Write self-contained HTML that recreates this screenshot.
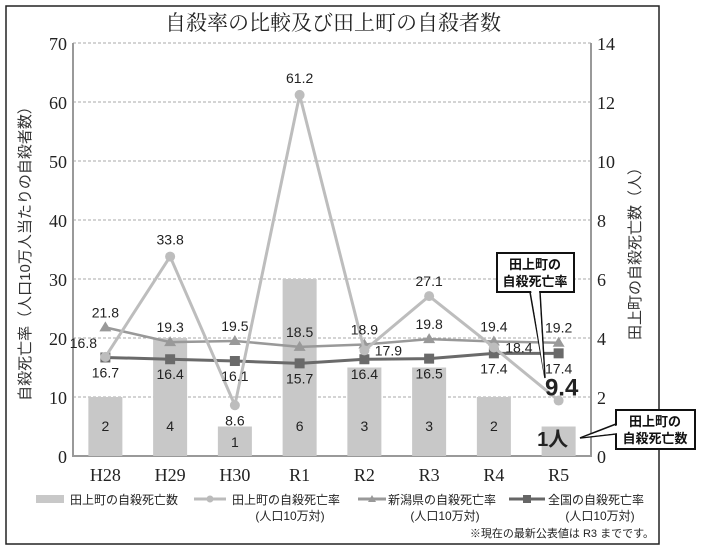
<!DOCTYPE html>
<html><head><meta charset="utf-8">
<style>
body{margin:0;background:#fff;}
svg{display:block;font-family:"Liberation Sans","Noto Sans CJK JP",sans-serif;}
.serif{font-family:"Liberation Serif","Noto Serif CJK SC",serif;}
</style></head><body>
<svg id="chart" width="702" height="549" viewBox="0 0 702 549" xmlns="http://www.w3.org/2000/svg">
<rect x="6" y="6" width="653" height="538" fill="#fff" stroke="#222" stroke-width="1.5"/>
<text x="333" y="30" text-anchor="middle" font-size="21" class="serif" fill="#222">自殺率の比較及び田上町の自殺者数</text>
<g id="grid"></g>
<g id="bars"></g>
<g id="lines"></g>
<g id="labels"></g>
<text transform="translate(30,250) rotate(-90)" text-anchor="middle" font-size="15" fill="#333">自殺死亡率（人口10万人当たりの自殺者数）</text>
<text transform="translate(640,250) rotate(-90)" text-anchor="middle" font-size="15" fill="#333">田上町の自殺死亡数（人）</text>
<!-- legend -->
<g font-size="12" fill="#222">
<rect x="36" y="495" width="28" height="8" fill="#c8c8c8"/>
<text x="70" y="504">田上町の自殺死亡数</text>
<line x1="194" y1="499" x2="226" y2="499" stroke="#bbb" stroke-width="3"/>
<circle cx="210" cy="499" r="3.5" fill="#bbb"/>
<text x="232" y="504">田上町の自殺死亡率</text>
<text x="290" y="520" text-anchor="middle">(人口10万対)</text>
<line x1="358" y1="499" x2="386" y2="499" stroke="#999" stroke-width="3"/>
<polygon points="372,495 376,502 368,502" fill="#999"/>
<text x="388" y="504">新潟県の自殺死亡率</text>
<text x="445" y="520" text-anchor="middle">(人口10万対)</text>
<line x1="509" y1="499" x2="545" y2="499" stroke="#666" stroke-width="3"/>
<rect x="523" y="495" width="8" height="8" fill="#666"/>
<text x="548" y="504">全国の自殺死亡率</text>
<text x="600" y="520" text-anchor="middle">(人口10万対)</text>
</g>
<text x="654" y="537" text-anchor="end" font-size="11" fill="#222">※現在の最新公表値は R3 までです。</text>
<!-- callouts -->
<g>
<polygon points="530,292 540,292 545,378" fill="#fff" stroke="#111" stroke-width="1.5"/>
<rect x="497" y="253" width="77" height="39" fill="#fff" stroke="#111" stroke-width="2"/>
<polygon points="531,290 539,290 544,374" fill="#fff"/>
<text x="535" y="269" text-anchor="middle" font-size="13" font-weight="bold" fill="#111">田上町の</text>
<text x="535" y="286" text-anchor="middle" font-size="13" font-weight="bold" fill="#111">自殺死亡率</text>
</g>
<g>
<polygon points="616,424 616,434 580,438" fill="#fff" stroke="#111" stroke-width="1.5"/>
<rect x="616" y="410" width="79" height="39" fill="#fff" stroke="#111" stroke-width="2"/>
<polygon points="618,425 618,433 584,437" fill="#fff"/>
<text x="655" y="426" text-anchor="middle" font-size="13" font-weight="bold" fill="#111">田上町の</text>
<text x="655" y="443" text-anchor="middle" font-size="13" font-weight="bold" fill="#111">自殺死亡数</text>
</g>
<script>
const categories=["H28","H29","H30","R1","R2","R3","R4","R5"];
const countValues=[2,4,1,6,3,3,2,1];
const tagamiRate=[16.8,33.8,8.6,61.2,17.9,27.1,18.4,9.4];
const niigataRate=[21.8,19.3,19.5,18.5,18.9,19.8,19.4,19.2];
const nationalRate=[16.7,16.4,16.1,15.7,16.4,16.5,17.4,17.4];
const leftTicks=[0,10,20,30,40,50,60,70];
const rightTicks=[0,2,4,6,8,10,12,14];
const tagamiLabelOffsets=[[-22,-14],[0,-17],[0,15],[0,-17],[24,0],[0,-15],[25,0],[3,-10]];

const NS="http://www.w3.org/2000/svg";
const PL=73,PR=591,PT=43,PB=456;
const step=(PR-PL)/categories.length;
const xC=i=>PL+step*(i+0.5);
const yL=v=>PB-(v/70)*(PB-PT);
const yR=v=>PB-(v/14)*(PB-PT);
function mk(tag,attrs,parent){const e=document.createElementNS(NS,tag);for(const k in attrs)e.setAttribute(k,attrs[k]);parent.appendChild(e);return e;}
const grid=document.getElementById('grid'),bars=document.getElementById('bars'),lines=document.getElementById('lines'),labels=document.getElementById('labels');

leftTicks.forEach((t,i)=>{
  if(t>0){const g=mk('line',{x1:PL,x2:PR,y1:yL(t),y2:yL(t),stroke:'#aaa','stroke-dasharray':'3,2','stroke-width':1},grid);
  
  }
  const tl=mk('text',{x:67,y:yL(t)+7,'text-anchor':'end','font-size':18,fill:'#222',class:'serif'},grid);tl.textContent=t;
  
  
});
rightTicks.forEach(t=>{
  const tl=mk('text',{x:597,y:yR(t)+7,'font-size':18,fill:'#222',class:'serif'},grid);tl.textContent=t;
  
  
});
const ax=mk('path',{d:`M${PL},${PT} V${PB} H${PR} V${PT}`,fill:'none',stroke:'#999','stroke-width':2},grid);



categories.forEach((c,i)=>{
  const t=mk('text',{x:xC(i),y:481,'text-anchor':'middle','font-size':18,fill:'#222',class:'serif'},labels);t.textContent=c;
  
  
  const v=countValues[i];
  const b=mk('rect',{x:xC(i)-17,y:yR(v),width:34,height:PB-yR(v),fill:'#c8c8c8'},bars);
  
  
  const last=i===categories.length-1;
  const bl=mk('text',{x:xC(i)-(last?6:0),y:last?446:(v<=1?447:431),'text-anchor':'middle','font-size':last?20:14,'font-weight':last?'bold':'normal',fill:'#222'},labels);
  bl.textContent=last?v+'人':v;
  
  
});

function series(vals,color,width,marker,name,labelFn){
  const d=vals.map((v,i)=>(i?'L':'M')+xC(i)+','+yL(v)).join(' ');
  const p=mk('path',{d:d,fill:'none',stroke:color,'stroke-width':width},lines);
  
  
  vals.forEach((v,i)=>{
    const x=xC(i),y=yL(v);let m;
    if(marker==='circle')m=mk('circle',{cx:x,cy:y,r:5,fill:color},lines);
    else if(marker==='tri')m=mk('polygon',{points:`${x},${y-6} ${x+6},${y+4} ${x-6},${y+4}`,fill:color},lines);
    else m=mk('rect',{x:x-5,y:y-5,width:10,height:10,fill:color},lines);
    
    
    const o=labelFn(i);const last=name==='tagami'&&i===vals.length-1;
    const t=mk('text',{x:x+o[0],y:y+o[1]+5,'text-anchor':'middle','font-size':last?24:14,'font-weight':last?'bold':'normal',fill:'#222'},labels);
    t.textContent=v.toFixed(1);
    
    
  });
}
series(niigataRate,'#999',2.5,'tri','niigata',()=>[0,-15]);
series(nationalRate,'#6a6a6a',3,'square','national',()=>[0,15]);
series(tagamiRate,'#bdbdbd',3,'circle','tagami',i=>tagamiLabelOffsets[i]);
</script>
</svg>
</body></html>
